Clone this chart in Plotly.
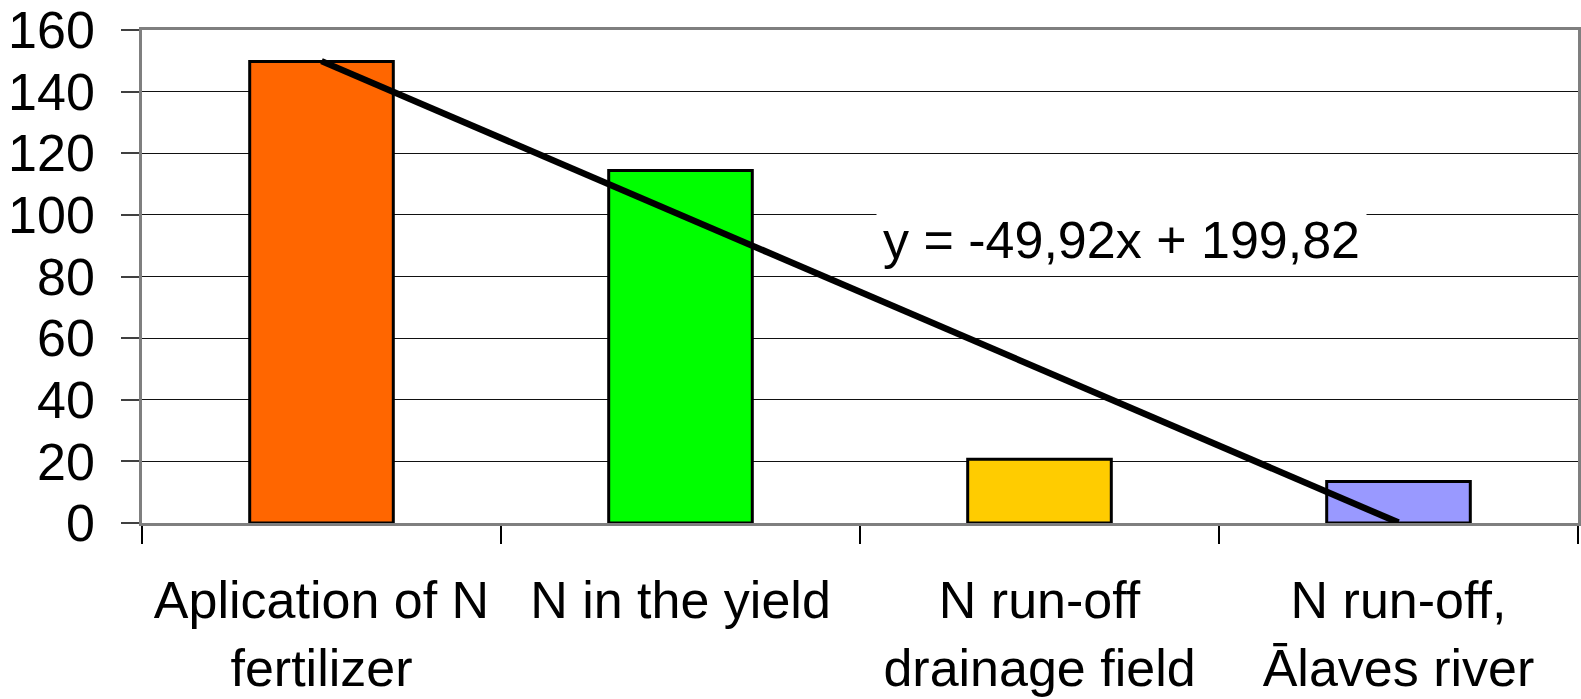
import plotly.graph_objects as go

# Nitrogen balance categories and values (kg/ha)
categories = [
    "Aplication of N<br>fertilizer",
    "N in the yield",
    "N run-off<br>drainage field",
    "N run-off,<br>Ālaves river",
]
values = [149.8, 114.4, 20.7, 13.5]
bar_colors = ["#FF6600", "#00FF00", "#FFCC00", "#9999FF"]

# Linear trendline coefficients
slope = -49.92
intercept = 199.82
trend_y = [slope * (i + 1) + intercept for i in range(len(categories))]
equation = "y = -49,92x + 199,82"

y_ticks = [0, 20, 40, 60, 80, 100, 120, 140, 160]

FONT = "Arial, Liberation Sans, sans-serif"

fig = go.Figure()
fig.add_trace(go.Bar(
    x=categories,
    y=values,
    marker=dict(color=bar_colors, line=dict(color="black", width=3)),
    width=0.4,
    showlegend=False,
))
fig.add_trace(go.Scatter(
    x=categories,
    y=trend_y,
    mode="lines",
    line=dict(color="black", width=6.5),
    showlegend=False,
))

fig.add_annotation(
    text=equation,
    xref="paper", yref="y",
    x=0.682, y=92,
    xanchor="center", yanchor="middle",
    showarrow=False,
    bgcolor="white",
    borderpad=6,
    font=dict(family=FONT, size=52, color="black"),
)

fig.update_layout(
    width=1581,
    height=699,
    margin=dict(l=142, r=3, t=30, b=176),
    paper_bgcolor="white",
    plot_bgcolor="white",
    font=dict(family=FONT, size=52, color="black"),
    bargap=0.6,
)
fig.update_xaxes(
    type="category",
    automargin=False,
    tickson="boundaries",
    ticks="outside",
    ticklen=18,
    tickwidth=1.5,
    tickcolor="black",
    showline=True,
    linecolor="#7f7f7f",
    linewidth=2.5,
    mirror=True,
    showgrid=False,
    ticklabelstandoff=30,
    tickfont=dict(family=FONT, size=52, color="black"),
)
fig.update_yaxes(
    range=[0, 160],
    automargin=False,
    tickvals=y_ticks,
    ticks="outside",
    ticklen=18,
    tickwidth=1.5,
    tickcolor="#404040",
    showline=True,
    linecolor="#7f7f7f",
    linewidth=2.5,
    mirror=True,
    showgrid=True,
    gridcolor="#111111",
    gridwidth=1,
    zeroline=False,
    ticklabelstandoff=16,
    tickfont=dict(family=FONT, size=52, color="black"),
)

fig.write_html("out.html")
